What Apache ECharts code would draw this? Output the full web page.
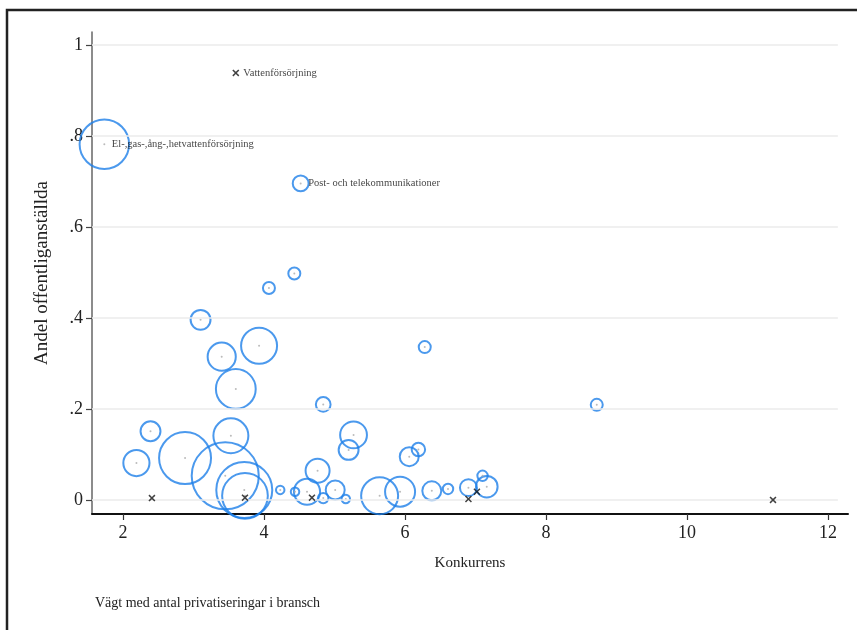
<!DOCTYPE html>
<html>
<head>
<meta charset="utf-8">
<script src="https://cdn.jsdelivr.net/npm/echarts@6/dist/echarts.min.js"></script>
<style>html,body{margin:0;padding:0;background:#fff;}#c{width:857px;height:630px;}</style>
</head>
<body>
<div id="c"></div>
<script>
// Weighted bubbles (Konkurrens, Andel offentliganställda, antal privatiseringar)
const circX = [1.735, 4.52, 4.43, 4.07, 3.10, 3.93, 3.40, 3.60, 6.28, 4.84, 2.39, 3.53, 5.27, 5.20, 2.19, 2.88, 3.45, 3.72, 3.73, 4.23, 4.44, 4.61, 4.76, 4.84, 5.01, 5.16, 5.64, 5.93, 6.38, 6.61, 6.06, 6.19, 6.90, 7.16, 7.10, 8.72];
const circY = [0.782, 0.696, 0.498, 0.466, 0.396, 0.339, 0.315, 0.244, 0.336, 0.210, 0.151, 0.141, 0.143, 0.110, 0.081, 0.092, 0.053, 0.022, 0.009, 0.022, 0.018, 0.018, 0.064, 0.004, 0.022, 0.002, 0.009, 0.018, 0.020, 0.024, 0.095, 0.111, 0.027, 0.029, 0.053, 0.209];
const circW = [68, 7, 4, 4, 11, 36, 22, 44, 4, 6, 11, 34, 20, 11, 19, 75, 125, 87, 58, 2, 2, 19, 16, 3, 10, 2, 38, 25, 10, 3, 10, 5, 8, 13, 3, 4];
// Unweighted points drawn as x
const crossX = [3.60, 2.41, 3.73, 4.68, 6.90, 7.02, 11.22];
const crossY = [0.939, 0.004, 0.005, 0.005, 0.002, 0.018, 0.000];
// Labelled branches
const labNames = ["Vattenförsörjning", "El-,gas-,ång-,hetvattenförsörjning", "Post- och telekommunikationer"];
const labX = [3.60, 1.735, 4.52];
const labY = [0.939, 0.782, 0.696];
// Axis ticks
const xTicks = [2, 4, 6, 8, 10, 12];
const yTicks = [0, 0.2, 0.4, 0.6, 0.8, 1];
const yTickLabels = ["0", ".2", ".4", ".6", ".8", "1"];

const X_MIN = 1.56, X_MAX = 12.284, Y_MIN = -0.031, Y_MAX = 1.029;
const SERIF = '"Liberation Serif","DejaVu Serif",serif';
const BLUE = '#1e80e8';

const chart = echarts.init(document.getElementById('c'), null, {renderer: 'canvas'});
const circData = circX.map((x, i) => [x, circY[i], circW[i]]);
const crossData = crossX.map((x, i) => [x, crossY[i]]);
const labData = labX.map((x, i) => ({value: [x, labY[i]], name: labNames[i]}));

chart.setOption({
  animation: false,
  backgroundColor: '#fff',
  graphic: [
    {type: 'rect', shape: {x: 7, y: 10, width: 900, height: 700}, style: {fill: 'none', stroke: '#222', lineWidth: 2.5}, z: 100},
    {type: 'text', left: 95, top: 596, style: {text: 'Vägt med antal privatiseringar i bransch', font: '14px ' + SERIF, fill: '#222'}}
  ],
  grid: {left: 92, right: 9, top: 32, bottom: 116, containLabel: false},
  xAxis: {
    type: 'value', min: X_MIN, max: X_MAX,
    name: 'Konkurrens', nameLocation: 'middle', nameGap: 42,
    nameTextStyle: {fontFamily: SERIF, fontSize: 15, color: '#222'},
    axisLine: {show: true, onZero: false, lineStyle: {color: '#111', width: 2}},
    axisTick: {show: true, length: 6, customValues: xTicks, lineStyle: {color: '#333', width: 1.2}},
    axisLabel: {customValues: xTicks, fontFamily: SERIF, fontSize: 18, color: '#222', margin: 10},
    splitLine: {show: false}
  },
  yAxis: {
    type: 'value', min: Y_MIN, max: Y_MAX,
    name: 'Andel offentliganställda', nameLocation: 'middle', nameGap: 40, nameRotate: 90,
    nameTextStyle: {fontFamily: SERIF, fontSize: 19, color: '#222'},
    axisLine: {show: true, onZero: false, lineStyle: {color: '#666', width: 1.5}},
    axisTick: {show: true, length: 6, customValues: yTicks, lineStyle: {color: '#444', width: 1.2}},
    axisLabel: {customValues: yTicks, fontFamily: SERIF, fontSize: 18, color: '#222', margin: 9,
      formatter: v => { const i = yTicks.findIndex(t => Math.abs(t - v) < 1e-6); return i >= 0 ? yTickLabels[i] : ''; }},
    splitLine: {show: false}
  },
  series: [
    {
      type: 'line', data: [], silent: true,
      markLine: {
        silent: true, symbol: 'none', label: {show: false}, animation: false,
        lineStyle: {color: '#ebebeb', width: 1.5, type: 'solid'},
        data: yTicks.map(v => [{coord: [X_MIN, v]}, {coord: [12.14, v]}])
      }
    },
    {
      type: 'scatter', data: circData,
      symbol: 'circle',
      symbolSize: v => 6 * Math.sqrt(v[2]),
      itemStyle: {color: 'rgba(0,0,0,0)', borderColor: BLUE, borderWidth: 2},
      z: 3
    },
    {
      type: 'scatter', data: circData.map(d => [d[0], d[1]]),
      symbol: 'circle', symbolSize: 2,
      itemStyle: {color: '#aaa'}, z: 4
    },
    {
      type: 'scatter', data: crossData,
      symbol: 'path://M1.5,0 L5,3.5 L8.5,0 L10,1.5 L6.5,5 L10,8.5 L8.5,10 L5,6.5 L1.5,10 L0,8.5 L3.5,5 L0,1.5 Z',
      symbolSize: 7,
      itemStyle: {color: '#111'}, z: 5
    },
    {
      type: 'scatter', data: labData,
      symbol: 'circle', symbolSize: 1,
      itemStyle: {color: 'rgba(0,0,0,0)'},
      label: {show: true, position: 'right', distance: 7, formatter: p => p.name,
        fontFamily: SERIF, fontSize: 10.5, color: '#111'},
      z: 6
    }
  ]
});
</script>
</body>
</html>
